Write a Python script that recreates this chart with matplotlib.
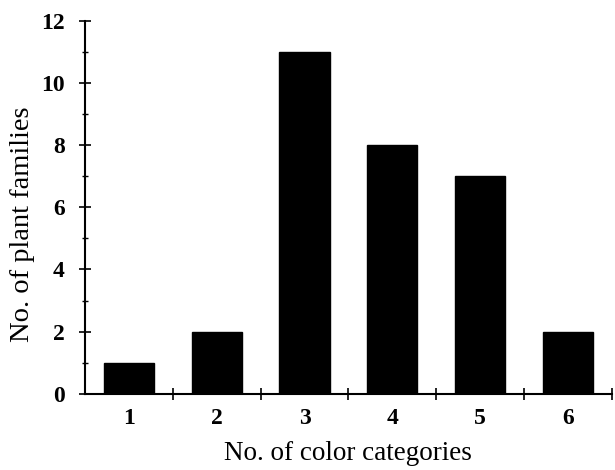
import matplotlib
matplotlib.use("Agg")
import matplotlib.pyplot as plt
from matplotlib.ticker import MultipleLocator, FixedLocator, NullFormatter

# number of colour categories per family vs. how many plant families
categories = [1, 2, 3, 4, 5, 6]
families = [1, 2, 11, 8, 7, 2]

plt.rcParams["font.family"] = ["Liberation Serif", "DejaVu Serif"]

fig = plt.figure(figsize=(6.15, 4.7), dpi=100)
ax = fig.add_axes([0.138, 0.162, 0.857, 0.794])

ax.bar(categories, families, width=0.57, color="black", edgecolor="black")

ax.set_xlim(0.5, 6.5)
ax.set_ylim(0, 12)

# y axis: majors every 2, minors in between, ticks crossing the spine
ax.yaxis.set_major_locator(MultipleLocator(2))
ax.yaxis.set_minor_locator(MultipleLocator(1))
ax.tick_params(axis="y", which="major", direction="inout", length=9, width=1.2,
               labelsize=17, pad=10)
ax.tick_params(axis="y", which="minor", direction="inout", length=5, width=1.0)

# x axis: tick marks between categories, labels under the bars
ax.xaxis.set_major_locator(FixedLocator(categories))
ax.xaxis.set_minor_locator(FixedLocator([1.5, 2.5, 3.5, 4.5, 5.5, 6.5]))
ax.xaxis.set_minor_formatter(NullFormatter())
ax.tick_params(axis="x", which="major", length=0, labelsize=17, pad=10)
ax.tick_params(axis="x", which="minor", direction="inout", length=9, width=1.2)

for lbl in ax.get_xticklabels() + ax.get_yticklabels():
    lbl.set_fontweight("bold")

for side in ("top", "right"):
    ax.spines[side].set_visible(False)
for side in ("left", "bottom"):
    ax.spines[side].set_linewidth(1.5)

ax.set_xlabel("No. of color categories", fontsize=19.5, labelpad=9)
ax.set_ylabel("No. of plant families", fontsize=20.5)
ax.yaxis.set_label_coords(-0.095, 0.455)

fig.savefig("out.png", dpi=100)
